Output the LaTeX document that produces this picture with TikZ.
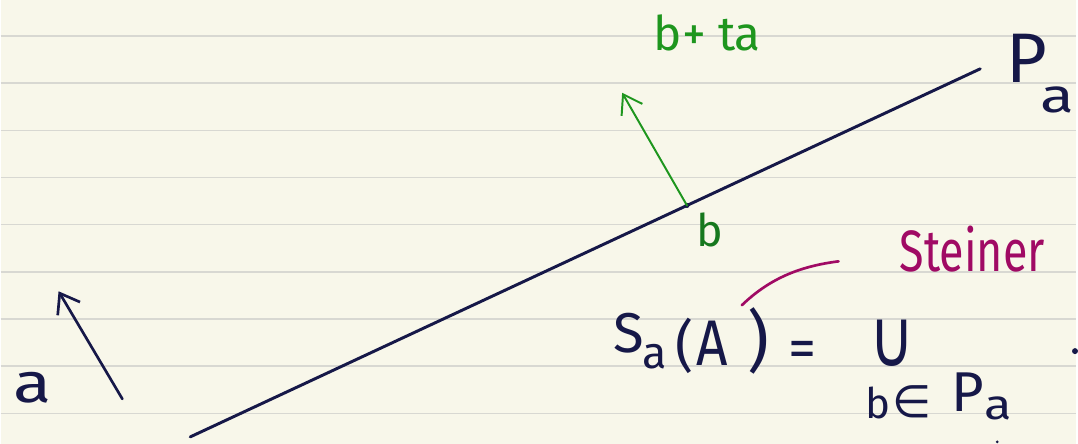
\documentclass[tikz,border=0pt]{standalone}
\usepackage{fontspec}
\setmainfont{Fira Sans}
\newfontfamily\symfont{DejaVu Sans}
\usetikzlibrary{arrows.meta}
\definecolor{paper}{RGB}{248,247,234}
\definecolor{ruling}{RGB}{216,216,210}
\definecolor{ink}{RGB}{22,24,72}
\definecolor{pengreen}{RGB}{30,150,30}
\definecolor{darkgreen}{RGB}{22,120,30}
\definecolor{penmagenta}{RGB}{160,10,100}
\newcommand{\fs}[1]{\fontsize{#1}{#1}\selectfont}
\begin{document}
\begin{tikzpicture}[
    x=0.025cm,y=-0.025cm,
    rule/.style={ruling,line width=1pt},
    pen/.style={ink,line width=1.9pt,line cap=round},
    vec/.style={pen,-{Straight Barb[length=4.5mm,width=6.5mm,line width=1.9pt]}},
    hand/.style={inner sep=0pt,text=ink},
    every node/.style={inner sep=0pt}
]

% paper
\fill[paper] (0,0) rectangle (1078,445);
\foreach \k in {0,...,8}
    \draw[rule] (0,36+47.3*\k) -- (1078,36+47.3*\k);

% vector a
\coordinate (aTail) at (122,400);
\coordinate (aTip)  at (58,292);
\draw[vec] (aTail) -- (aTip);
\node[hand,font=\fs{40}] (aLab) at (32,389) {\scalebox{1.25}[1]{a}};

% the line P_a
\coordinate (lineS) at (190,438);
\coordinate (lineE) at (982,69);
\draw[pen,line width=2.1pt] (lineS) -- (lineE);
\node[hand,font=\fs{50},anchor=base west] (Pa) at (1008,83)
    {P\kern-4.5pt\raisebox{-21pt}{\fs{34}\scalebox{1.3}[1]{a}}};

% b and b+ta
\coordinate (bPt)  at (688,206);
\coordinate (btaTip) at (623,93);
\fill[ink] (bPt) circle (2.5);
\draw[vec,pengreen,line width=1.4pt,
      -{Straight Barb[length=4.5mm,width=6mm,line width=1.4pt]}] (bPt) -- (btaTip);
\node[hand,text=darkgreen,font=\fs{32}] (b) at (711,231) {b};
\node[hand,text=pengreen,font=\fs{34}] (bta) at (708,33) {b+ t\kern-1pt a};

% Steiner
\node[hand,text=penmagenta,font=\fs{32}] (stein) at (974,250)
    {\scalebox{1}[1.3]{Steiner}};
\coordinate (stS) at (743,306);
\coordinate (stE) at (840,262);
\draw[penmagenta,line width=1.9pt,line cap=round]
    (stS) .. controls (770,280) and (800,267) .. (stE);

% S_a(A) = union
\node[hand,font=\fs{40},anchor=base west] (Sa) at (614,353)
    {S\kern-1pt\raisebox{-12pt}{\fs{32}a}};
\node[hand,font=\fs{40}] (lpar) at (686,347) {(};
\node[hand,font=\fs{46}] (A) at (713,344) {\scalebox{0.85}[1]{A}};
\node[hand,font=\fs{48}] (rpar) at (760,342) {)};
\node[hand,font=\fs{40}] (eq) at (804,355) {=};
\node[hand,font=\fs{44}] (cup) at (894,344) {\symfont\scalebox{1}[1.3]{∪}};
\node[hand,font=\fs{30}] (bidx) at (879,404) {b};
\node[hand,font=\fs{32}] (in) at (914,403) {\symfont ∈};
\node[hand,font=\fs{40},anchor=base west] (Pidx) at (953,413)
    {P\raisebox{-5.3pt}{\fs{30}\scalebox{1.2}[1]{a}}};

% cut-off marks at the border
\fill[ink] (1077,352) circle (3);
\fill[ink] (999,443) circle (1.5);

\end{tikzpicture}
\end{document}
